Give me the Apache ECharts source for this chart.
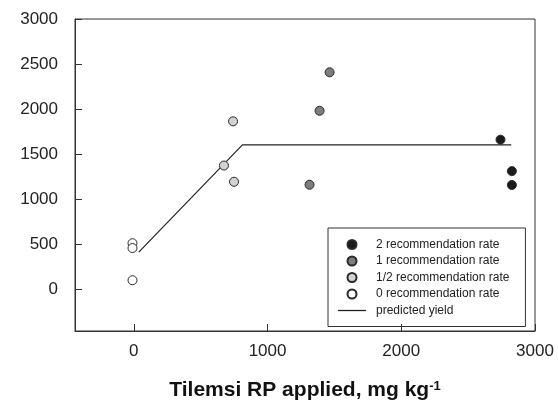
<!DOCTYPE html>
<html>
<head>
<meta charset="utf-8">
<script src="https://cdn.jsdelivr.net/npm/echarts@6/dist/echarts.min.js"></script>
<style>
  html, body { margin: 0; padding: 0; background: #fff; }
  #chart { width: 558px; height: 404px; }
</style>
</head>
<body>
<div id="chart"></div>
<script>
// Sorghum grain yield vs. Tilemsi rock phosphate applied
const rate2 = [[2742, 1662], [2827, 1313], [2827, 1159]];
const rate1 = [[1464, 2409], [1389, 1982], [1314, 1162]];
const rateHalf = [[742, 1865], [674, 1375], [749, 1195]];
const rate0 = [[-10, 514], [-10, 460], [-10, 103]];
const predicted = [[37, 415], [812, 1604], [2822, 1604]];

const xTicks = [0, 1000, 2000, 3000];
const yTicks = [0, 500, 1000, 1500, 2000, 2500, 3000];

const seriesNames = [
  '2 recommendation rate',
  '1 recommendation rate',
  '1/2 recommendation rate',
  '0 recommendation rate',
  'predicted yield'
];
const fills = ['#1a1a1a', '#7d7d7d', '#d2d2d2', '#ffffff'];
const pointSets = [rate2, rate1, rateHalf, rate0];

const font = '"Liberation Sans", Arial, Helvetica, sans-serif';

const chart = echarts.init(document.getElementById('chart'), null, { renderer: 'canvas' });

const scatterSeries = pointSets.map((pts, i) => ({
  name: seriesNames[i],
  type: 'scatter',
  data: pts,
  symbol: 'circle',
  symbolSize: 9,
  z: 5,
  itemStyle: { color: fills[i], borderColor: '#2a2a2a', borderWidth: 1, opacity: 1 }
}));

const legendData = seriesNames.slice(0, 4).map(n => ({ name: n }));
legendData.push({ name: seriesNames[4], icon: 'path://M0,0 L28,0 L28,1.3 L0,1.3 Z' });

chart.setOption({
  animation: false,
  backgroundColor: '#fff',
  grid: {
    left: 75, right: 23, top: 19, bottom: 73,
    outerBoundsMode: 'none',
    containLabel: false,
    show: true, borderColor: '#333', borderWidth: 1
  },
  legend: {
    orient: 'vertical',
    left: 328, top: 228,
    padding: [10.5, 16, 10, 10],
    borderColor: '#333', borderWidth: 1,
    itemWidth: 28, itemHeight: 9, itemGap: 4.5,
    textStyle: { fontFamily: font, fontSize: 12, color: '#222', padding: [0, 0, 0, 5] },
    data: legendData
  },
  xAxis: {
    type: 'value',
    min: -440, max: 3000,
    splitNumber: 4,
    splitLine: { show: false },
    axisLine: { show: true, onZero: false, lineStyle: { color: '#333', width: 1 } },
    axisTick: { show: true, inside: true, length: 7, lineStyle: { color: '#333' } },
    axisLabel: {
      customValues: xTicks, fontFamily: font, fontSize: 17, color: '#222', margin: 12,
      formatter: v => String(v)
    },
    name: '{t|Tilemsi RP applied, mg kg}{s|-1}',
    nameLocation: 'middle',
    nameGap: 49,
    nameTextStyle: {
      rich: {
        t: { fontFamily: font, fontSize: 21, fontWeight: 'bold', color: '#111' },
        s: { fontFamily: font, fontSize: 13, fontWeight: 'bold', color: '#111', verticalAlign: 'top', padding: [0, 0, 8, 0] }
      }
    }
  },
  yAxis: {
    type: 'value',
    min: -460, max: 3000,
    splitNumber: 7,
    splitLine: { show: false },
    axisLine: { show: true, onZero: false, lineStyle: { color: '#333', width: 1 } },
    axisTick: { show: true, inside: true, length: 7, lineStyle: { color: '#333' } },
    axisLabel: {
      customValues: yTicks, fontFamily: font, fontSize: 17, color: '#222', margin: 17,
      formatter: v => String(v)
    }
  },
  series: scatterSeries.concat([{
    name: seriesNames[4],
    type: 'line',
    data: predicted,
    symbol: 'none',
    z: 3,
    lineStyle: { color: '#222', width: 1.2 },
    itemStyle: { color: '#222' }
  }])
});
</script>
</body>
</html>
